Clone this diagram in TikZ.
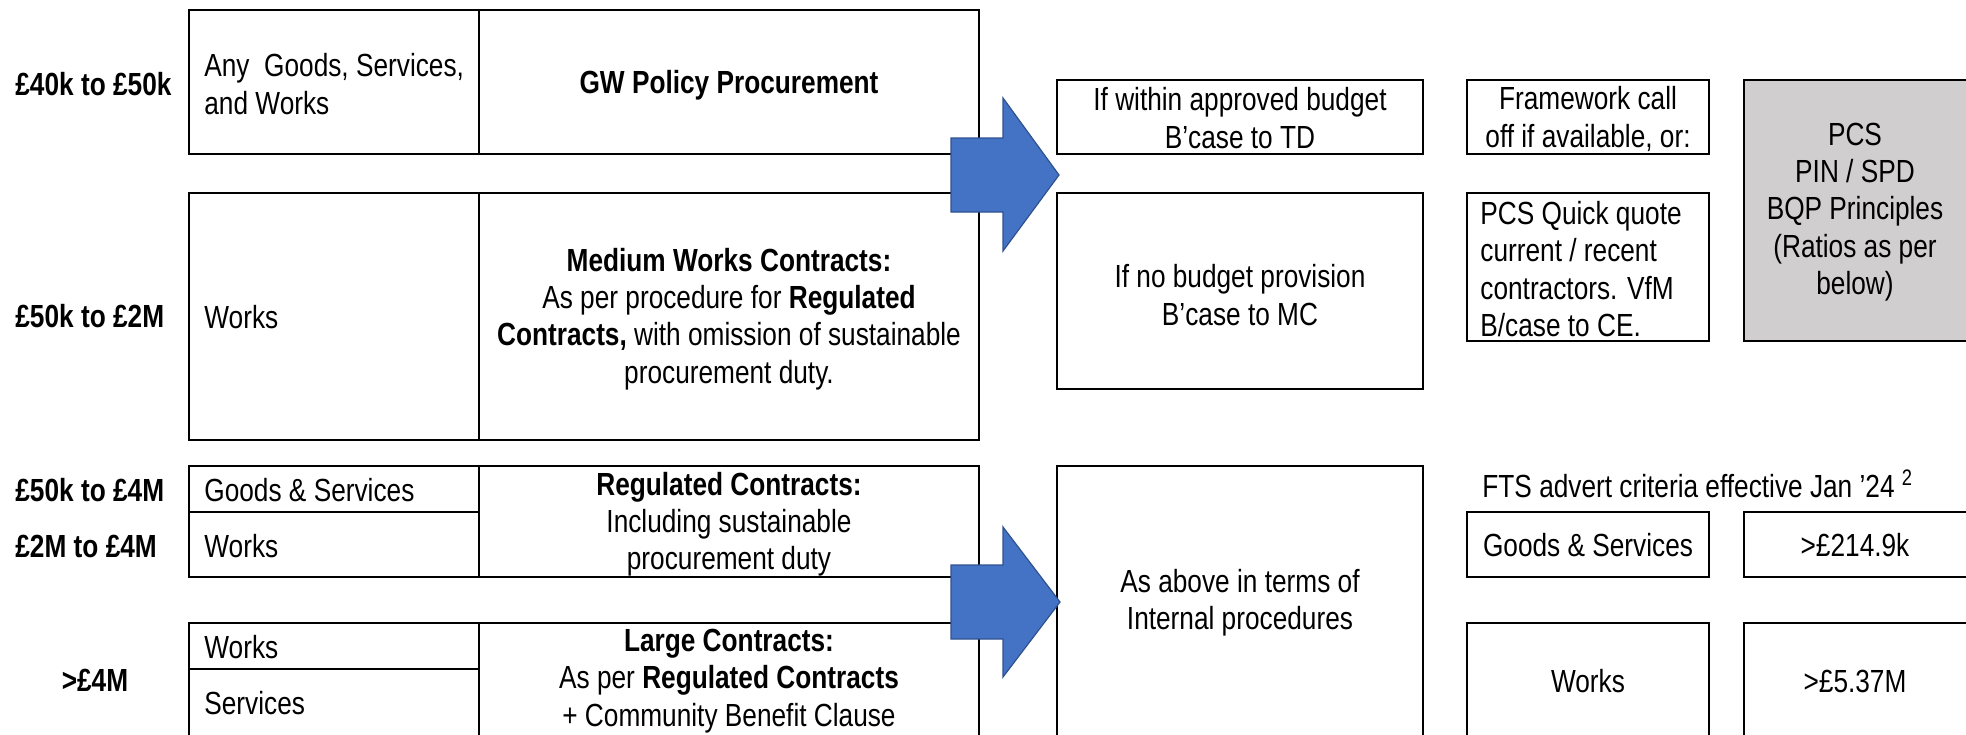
\documentclass[tikz,border=0pt]{standalone}
\usepackage{fontspec}
\setmainfont{Liberation Sans}[FakeStretch=0.82]
\usetikzlibrary{fit}
\definecolor{arrowblue}{HTML}{4472C4}
\definecolor{arrowedge}{HTML}{2F528F}
\definecolor{greybox}{HTML}{D0CECE}
\begin{document}
\begin{tikzpicture}[x=0.5pt,y=-0.5pt,
  every node/.style={inner sep=0pt},
  basefont/.style={font=\fontsize{16}{18.6}\selectfont},
  cell/.style={draw, line width=1pt, inner sep=0pt},
  greycell/.style={cell, fill=greybox},
  txt/.style={basefont, align=center},
  ltxt/.style={basefont, align=left, anchor=west},
  lab/.style={font=\fontsize{16}{18.6}\selectfont\bfseries},
  blockarrow/.style={fill=arrowblue, draw=arrowedge, line width=0.6pt, line join=miter}]
\useasboundingbox (0,0) rectangle (1966,734);
\clip (0,0) rectangle (1966,734);

% ---- left labels
\node[lab, anchor=west] (lab1) at (15,84) {£40k to £50k};
\node[lab, anchor=west] (lab2) at (15,316) {£50k to £2M};
\node[lab, anchor=west] (lab3) at (15,490) {£50k to £4M};
\node[lab, anchor=west] (lab4) at (15,546) {£2M to £4M};
\node[lab] (lab5) at (95,680) {>£4M};

% ---- main table cells
\node[cell, fit={(189,10) (479,154)}] (c1l) {};
\node[cell, fit={(479,10) (979,154)}] (c1r) {};
\node[cell, fit={(189,193) (479,440)}] (c2l) {};
\node[cell, fit={(479,193) (979,440)}] (c2r) {};
\node[cell, fit={(189,466) (479,512)}] (c3la) {};
\node[cell, fit={(189,512) (479,577)}] (c3lb) {};
\node[cell, fit={(479,466) (979,577)}] (c3r) {};
\node[cell, fit={(189,623) (479,669)}] (c4la) {};
\node[cell, fit={(189,669) (479,742)}] (c4lb) {};
\node[cell, fit={(479,623) (979,742)}] (c4r) {};

% ---- main table texts
\node[ltxt] (t1l) at (204,84) {Any\ \ Goods, Services,\\and Works};
\node[txt] (t1r) at (729,85) {\bfseries GW Policy Procurement};
\node[ltxt] (t2l) at (204,317) {Works};
\node[txt] (t2r) at (729,319) {\textbf{Medium Works Contracts:}\\As per procedure for \textbf{Regulated}\\\textbf{Contracts,} with omission of sustainable\\procurement duty.};
\node[ltxt] (t3la) at (204,490) {Goods \& Services};
\node[ltxt] (t3lb) at (204,546) {Works};
\node[txt] (t3r) at (729,524) {\textbf{Regulated Contracts:}\\Including sustainable\\procurement duty};
\node[ltxt] (t4la) at (204,647) {Works};
\node[ltxt] (t4lb) at (204,703) {Services};
\node[txt] (t4r) at (729,681) {\textbf{Large Contracts:}\\As per \textbf{Regulated Contracts}\\+ Community Benefit Clause};

% ---- middle column
\node[cell, fit={(1057,80) (1423,154)}] (mA) {};
\node[cell, fit={(1057,193) (1423,389)}] (mB) {};
\node[cell, fit={(1057,466) (1423,742)}] (mC) {};
\node[txt] (tA) at (1240,118) {If within approved budget\\B’case to TD};
\node[txt] (tB) at (1240,295) {If no budget provision\\B’case to MC};
\node[txt] (tC) at (1240,603) {As above in terms of\\Internal procedures};

% ---- right columns
\node[cell, fit={(1467,80) (1709,154)}] (rF) {};
\node[cell, fit={(1467,193) (1709,341)}] (rP) {};
\node[greycell, fit={(1744,80) (1968,341)}] (rG) {};
\node[txt] (tF) at (1588,119) {Framework call\\off if available, or:};
\node[ltxt] (tP) at (1480,269) {PCS Quick quote\\current / recent\\contractors. VfM\\B/case to CE.};
\node[txt] (tG) at (1855,212) {PCS\\PIN / SPD\\BQP Principles\\(Ratios as per\\below)};

\node[ltxt] (tFTS) at (1482,484) {FTS advert criteria effective Jan ’24 \textsuperscript{2}};
\node[cell, fit={(1467,512) (1709,577)}] (rGS) {};
\node[cell, fit={(1744,512) (1968,577)}] (rGSv) {};
\node[cell, fit={(1467,623) (1709,742)}] (rW) {};
\node[cell, fit={(1744,623) (1968,742)}] (rWv) {};
\node[txt] (tGS) at (1588,545) {Goods \& Services};
\node[txt] (tGSv) at (1855,545) {>£214.9k};
\node[txt] (tW) at (1588,681) {Works};
\node[txt] (tWv) at (1855,681) {>£5.37M};

% ---- block arrows
\draw[blockarrow] (951,138) -- (1003,138) -- (1003,98) -- (1059,175) -- (1003,251) -- (1003,212) -- (951,212) -- cycle;
\draw[blockarrow] (951,565) -- (1003,565) -- (1003,527) -- (1060,602) -- (1003,677) -- (1003,639) -- (951,639) -- cycle;
\end{tikzpicture}
\end{document}
